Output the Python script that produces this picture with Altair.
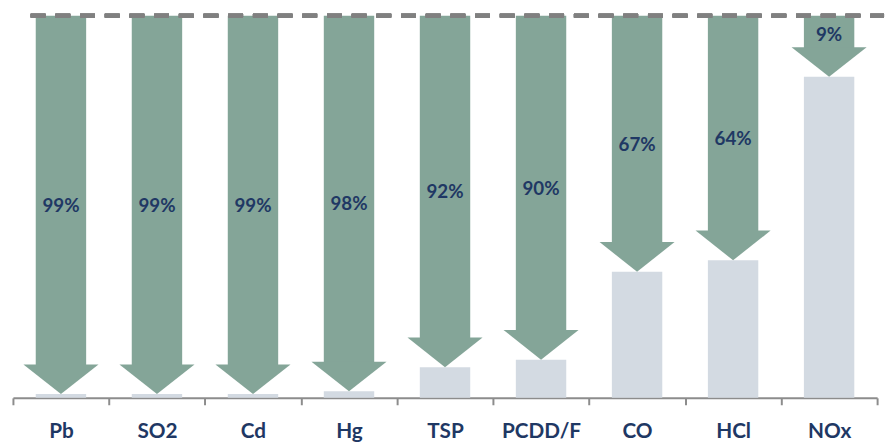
import altair as alt
import pandas as pd

categories = ["Pb", "SO2", "Cd", "Hg", "TSP", "PCDD/F", "CO", "HCl", "NOx"]
reduction_labels = ["99%", "99%", "99%", "98%", "92%", "90%", "67%", "64%", "9%"]
remaining = [1, 1, 1, 1.7, 8, 10, 33, 36, 84]

df = pd.DataFrame({"cat": categories, "label": reduction_labels, "remaining": remaining})

GREEN = "#84a598"
GRAY = "#d3dae2"
NAVY = "#1f3864"
LINE = "#808080"
FONT = "Lato"

x_enc = alt.X(
    "cat:N",
    sort=categories,
    scale=alt.Scale(paddingInner=0, paddingOuter=0),
    axis=alt.Axis(
        title=None, labelAngle=0, tickBand="extent", tickSize=7, tickWidth=2,
        tickColor="#8c8c8c", domainColor="#8c8c8c", domainWidth=2,
        labelFont=FONT, labelFontWeight="bold", labelFontSize=21,
        labelColor=NAVY, labelPadding=16,
    ),
)
y_scale = alt.Scale(domain=[0, 100], nice=False, zero=True)

base = alt.Chart(df).transform_calculate(
    top="100",
    label_y="(100 - datum.remaining) < 30 ? 100 - 0.3 * (100 - datum.remaining) : (100 + datum.remaining) / 2",
)

bars = base.mark_bar(color=GRAY, width=alt.RelativeBandSize(0.525)).encode(
    x=x_enc,
    y=alt.Y("remaining:Q", scale=y_scale, axis=None),
)

shaft = base.mark_bar(color=GREEN, width=alt.RelativeBandSize(0.525), y2Offset=-28).encode(
    x=x_enc,
    y=alt.Y("top:Q", scale=y_scale, axis=None),
    y2=alt.Y2("remaining:Q"),
)

head = base.mark_point(
    shape="M-1,-0.79L1,-0.79L0,0Z", size=5776, filled=True,
    color=GREEN, opacity=1, strokeWidth=0,
).encode(
    x=x_enc,
    y=alt.Y("remaining:Q", scale=y_scale, axis=None),
)

text = base.mark_text(
    font=FONT, fontWeight="bold", fontSize=19, color=NAVY, dy=1,
).encode(
    x=x_enc,
    y=alt.Y("label_y:Q", scale=y_scale, axis=None),
    text="label:N",
)

dash = alt.Chart(df).mark_rule(color=LINE, strokeWidth=4, strokeDash=[15, 10]).encode(
    y=alt.datum(100, scale=y_scale),
    x=alt.value(18),
    x2=alt.value(882),
)

chart = alt.layer(bars, shaft, head, text, dash).properties(
    width=875, height=387,
    padding={"left": 4, "top": 3, "right": 0, "bottom": 0},
).configure_view(stroke=None)

chart.save("out.html", embed_options={"renderer": "svg", "actions": False})
